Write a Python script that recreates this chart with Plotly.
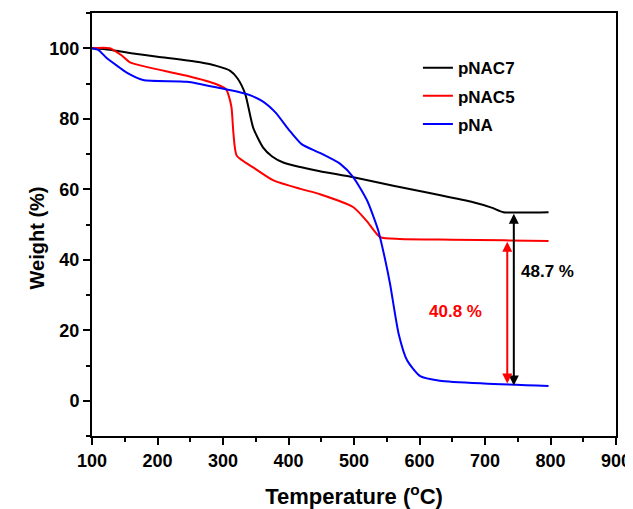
import plotly.graph_objects as go

# ---- data ----
t_nac7 = [100, 127, 160, 200, 265, 290, 311, 322, 334, 346, 361, 375, 392, 418, 448, 499, 560, 621, 682, 710, 728, 760, 797]
w_nac7 = [100, 99.6, 98.6, 97.6, 96.0, 95.0, 93.6, 91.5, 87.0, 77.5, 71.9, 69.3, 67.6, 66.3, 65.1, 63.4, 61.0, 58.7, 56.3, 54.8, 53.5, 53.4, 53.5]

t_nac5 = [100, 127, 145, 158, 188, 245, 290, 305, 308, 313, 316, 321, 346, 377, 418, 448, 499, 519, 540, 570, 650, 730, 797]
w_nac5 = [100, 100, 98.0, 96.0, 94.5, 92.2, 89.8, 88.3, 87.0, 83.2, 75.7, 69.5, 66.2, 62.5, 60.1, 58.6, 54.9, 51.1, 46.4, 45.9, 45.7, 45.5, 45.3]

t_na = [100, 110, 122, 140, 153, 178, 245, 295, 336, 360, 380, 400, 420, 448, 479, 499, 520, 537, 547, 555, 568, 581, 601, 631, 698, 797]
w_na = [100, 99.5, 97.3, 94.8, 93.1, 91.0, 90.5, 88.7, 87.0, 85.0, 81.8, 77.0, 72.8, 70.3, 67.2, 63.4, 56.8, 48.3, 40.5, 33.2, 19.1, 11.5, 7.0, 5.7, 4.9, 4.2]

series = [("pNAC7", t_nac7, w_nac7, "#000000"),
          ("pNAC5", t_nac5, w_nac5, "#ff0000"),
          ("pNA", t_na, w_na, "#0000ff")]

# residue arrows
arrow_x = [744, 734]
arrow_top = [53.5, 45.5]
arrow_bottom = [4.3, 4.9]
arrow_colors = ["#000000", "#ff0000"]
arrow_labels = ["48.7 %", "40.8 %"]
label_x = [795, 655]
label_y = [36.8, 25.4]

x_ticks = [100, 200, 300, 400, 500, 600, 700, 800, 900]
y_ticks = [0, 20, 40, 60, 80, 100]

FONT = "Liberation Sans, Arial, sans-serif"

fig = go.Figure()
for i, (name, t, w, c) in enumerate(series):
    fig.add_trace(go.Scatter(x=t, y=w, mode="lines", name=name, legendgroup="g%d" % i,
                             line=dict(color=c, width=2, shape="spline", smoothing=0.6)))

for xa, top, bot, c, lab, lx, ly in zip(arrow_x, arrow_top, arrow_bottom, arrow_colors, arrow_labels, label_x, label_y):
    fig.add_annotation(x=xa, y=bot, ax=xa, ay=top, xref="x", yref="y", axref="x", ayref="y",
                       text="", showarrow=True, arrowhead=2, arrowside="end+start",
                       arrowsize=1, arrowwidth=2, arrowcolor=c)
    fig.add_annotation(x=lx, y=ly, xref="x", yref="y", text="<b>%s</b>" % lab, showarrow=False,
                       font=dict(family=FONT, size=17, color=c))

axis_common = dict(showline=True, linecolor="#000000", linewidth=2, mirror=True,
                   ticks="outside", ticklen=7, tickwidth=2, tickcolor="#000000",
                   showgrid=False, zeroline=False, automargin=False,
                   tickfont=dict(family=FONT, size=18, color="#000000", weight="bold"))

fig.update_xaxes(range=[100, 900], tickvals=x_ticks,
                 minor=dict(ticks="outside", ticklen=4, tickwidth=2, tickcolor="#000000", dtick=50, tick0=100),
                 title=dict(text="<b>Temperature (<sup>o</sup>C)</b>", font=dict(family=FONT, size=22, color="#000000"), standoff=29),
                 **axis_common)
fig.update_yaxes(range=[-10, 110], tickvals=y_ticks,
                 minor=dict(ticks="outside", ticklen=4, tickwidth=2, tickcolor="#000000", dtick=10, tick0=0),
                 **axis_common)

fig.add_annotation(x=-0.128, y=0.50 - 13 / 423, xref="paper", yref="paper", text="<b>Weight (%)</b>",
                   textangle=-90, showarrow=False, font=dict(family=FONT, size=20, color="#000000"))

# the page body has an 8px default margin, so the figure is shifted by 8px
fig.update_layout(width=625, height=501, margin=dict(l=84, r=17, t=5, b=73),
                  paper_bgcolor="white", plot_bgcolor="white",
                  legend=dict(x=0.622, y=0.912, xanchor="left", yanchor="top",
                              bgcolor="rgba(0,0,0,0)", borderwidth=0,
                              traceorder="grouped", tracegroupgap=3,
                              font=dict(family=FONT, size=17, color="#000000", weight="bold")),
                  showlegend=True)

fig.write_html("out.html")
